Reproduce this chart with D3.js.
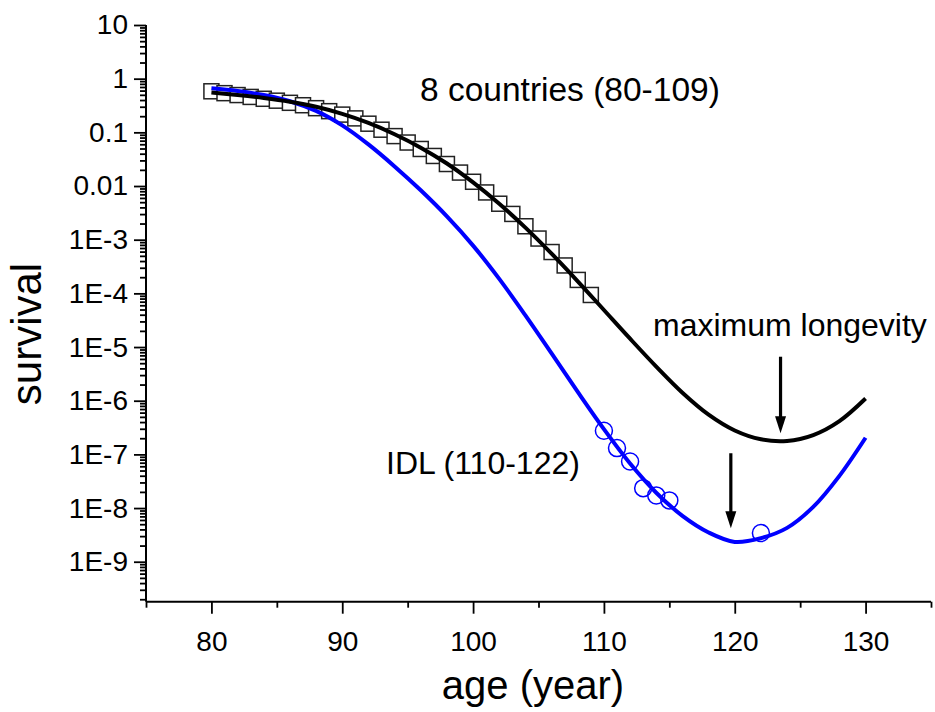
<!DOCTYPE html>
<html>
<head>
<meta charset="utf-8">
<script src="https://cdn.jsdelivr.net/npm/d3@7"></script>
<style>
  html, body { margin: 0; padding: 0; background: #fff; }
  svg text { font-family: "Liberation Sans", Arial, Helvetica, sans-serif; fill: #000; }
</style>
</head>
<body>
<svg id="chart" width="935" height="712"></svg>
<script>
// ---- data ----
const squareAges = [80,81,82,83,84,85,86,87,88,89,90,91,92,93,94,95,96,97,98,99,100,101,102,103,104,105,106,107,108,109];
const squareSurvival = [0.582,0.537,0.495,0.457,0.422,0.389,0.355,0.320,0.282,0.248,0.214,0.182,0.145,0.112,0.0851,0.0646,0.0490,0.0363,0.0257,0.0178,0.0120,0.00759,0.00468,0.00302,0.00178,0.00105,5.89e-4,3.31e-4,1.78e-4,9.33e-5];

const circleAges = [110,111,112,113,114,115,122];
const circleSurvival = [2.75e-7,1.31e-7,7.38e-8,2.35e-8,1.72e-8,1.39e-8,3.42e-9];

const curveAges = [80,82,84,86,88,90,92,94,96,98,100,102,104,106,108,110,112,114,116,118,120,122,124,126,128,130];
const blackCurve = [0.550,0.495,0.437,0.372,0.299,0.221,0.150,0.0923,0.0519,0.0263,0.0117,0.00468,0.00168,5.50e-4,1.68e-4,4.90e-5,1.43e-5,4.32e-6,1.41e-6,5.50e-7,2.79e-7,1.91e-7,1.78e-7,2.29e-7,4.17e-7,1.10e-6];
const blueCurve = [0.661,0.589,0.495,0.380,0.251,0.135,0.0596,0.0232,0.00832,0.00272,7.76e-4,1.86e-4,3.89e-5,7.59e-6,1.46e-6,2.95e-7,6.76e-8,1.93e-8,7.16e-9,3.51e-9,2.34e-9,2.75e-9,4.27e-9,1.05e-8,3.98e-8,2.04e-7];

const xMajorTicks = [80,90,100,110,120,130];
const xMinorTicks = [75,85,95,105,115,125,135];
const yMajorTicks = [10,1,0.1,0.01,1e-3,1e-4,1e-5,1e-6,1e-7,1e-8,1e-9];
const yTickLabels = ["10","1","0.1","0.01","1E-3","1E-4","1E-5","1E-6","1E-7","1E-8","1E-9"];

const arrowAges = [123.5, 119.7];
const arrowFrom = [6.6e-6, 1.05e-7];
const arrowTo = [2.47e-7, 4.19e-9];

const labels = [
  {text: "8 countries (80-109)", x: 420, y: 101, size: 33.5},
  {text: "maximum longevity", x: 653, y: 336, size: 32},
  {text: "IDL (110-122)", x: 386, y: 474, size: 32}
];

// ---- scales ----
const svg = d3.select("#chart");
const x = d3.scaleLinear().domain([75, 135]).range([146, 931]);
const y = d3.scaleLog().domain([1.8e-10, 10]).range([601.7, 25]);

// ---- axes ----
const yMinor = [];
for (let e = -10; e < 1; e++) {
  for (let m = 2; m <= 9; m++) {
    const v = m * Math.pow(10, e);
    if (v >= 1.8e-10 && v < 10) yMinor.push(v);
  }
}

const yAxisMinor = svg.append("g").attr("transform", "translate(146,0)")
  .call(d3.axisLeft(y).tickValues(yMinor).tickSize(6).tickFormat(""));
const yAxis = svg.append("g").attr("transform", "translate(146,0)")
  .call(d3.axisLeft(y).tickValues(yMajorTicks).tickSize(12).tickPadding(6)
    .tickFormat((d, i) => yTickLabels[i]));
const xAxisMinor = svg.append("g").attr("transform", "translate(0,601.7)")
  .call(d3.axisBottom(x).tickValues(xMinorTicks).tickSize(6).tickFormat(""));
const xAxis = svg.append("g").attr("transform", "translate(0,601.7)")
  .call(d3.axisBottom(x).tickValues(xMajorTicks).tickSize(12).tickPadding(17)
    .tickFormat(d3.format("d")));

[yAxisMinor, yAxis, xAxisMinor, xAxis].forEach(g => {
  g.select(".domain").attr("stroke", "#000").attr("stroke-width", 2);
  g.selectAll(".tick line").attr("stroke", "#000").attr("stroke-width", 1.8);
  g.selectAll(".tick text").attr("font-size", 28).attr("fill", "#000")
    .style("font-family", "'Liberation Sans', Arial, sans-serif");
});
yAxisMinor.select(".domain").remove();
xAxisMinor.select(".domain").remove();
yAxis.select(".domain").attr("d", "M0,25V601.7");
xAxis.select(".domain").attr("d", "M146,0H931");

// axis titles
svg.append("text").attr("x", 533).attr("y", 699).attr("text-anchor", "middle")
  .attr("font-size", 40).text("age (year)");
svg.append("text").attr("transform", "translate(41,334) rotate(-90)")
  .attr("text-anchor", "middle").attr("font-size", 42).text("survival");

// ---- squares ----
const sq = 15;
svg.append("g").selectAll("rect").data(squareAges).join("rect")
  .attr("x", (d) => x(d) - sq / 2)
  .attr("y", (d, i) => y(squareSurvival[i]) - sq / 2)
  .attr("width", sq).attr("height", sq)
  .attr("fill", "#fff").attr("stroke", "#222").attr("stroke-width", 1.5);

// ---- curves ----
const line = d3.line()
  .x(d => x(d[0])).y(d => y(d[1]))
  .curve(d3.curveCatmullRom.alpha(0.5));

svg.append("path").datum(curveAges.map((a, i) => [a, blueCurve[i]]))
  .attr("d", line).attr("fill", "none").attr("stroke", "#0000ff").attr("stroke-width", 4);
svg.append("path").datum(curveAges.map((a, i) => [a, blackCurve[i]]))
  .attr("d", line).attr("fill", "none").attr("stroke", "#000").attr("stroke-width", 4);

// ---- circles ----
svg.append("g").selectAll("circle").data(circleAges).join("circle")
  .attr("cx", d => x(d)).attr("cy", (d, i) => y(circleSurvival[i]))
  .attr("r", 8.5).attr("fill", "none").attr("stroke", "#0000ff").attr("stroke-width", 1.5);

// ---- arrows ----
arrowAges.forEach((a, i) => {
  const ax = x(a), y0 = y(arrowFrom[i]), y1 = y(arrowTo[i]);
  const head = 17, hw = 5.5;
  svg.append("line").attr("x1", ax).attr("x2", ax).attr("y1", y0).attr("y2", y1 - head + 2)
    .attr("stroke", "#000").attr("stroke-width", 3.2);
  svg.append("path")
    .attr("d", `M${ax - hw},${y1 - head}L${ax + hw},${y1 - head}L${ax},${y1}Z`)
    .attr("fill", "#000");
});

// ---- annotations ----
svg.append("g").selectAll("text").data(labels).join("text")
  .attr("x", d => d.x).attr("y", d => d.y).attr("font-size", d => d.size)
  .text(d => d.text);
</script>
</body>
</html>
